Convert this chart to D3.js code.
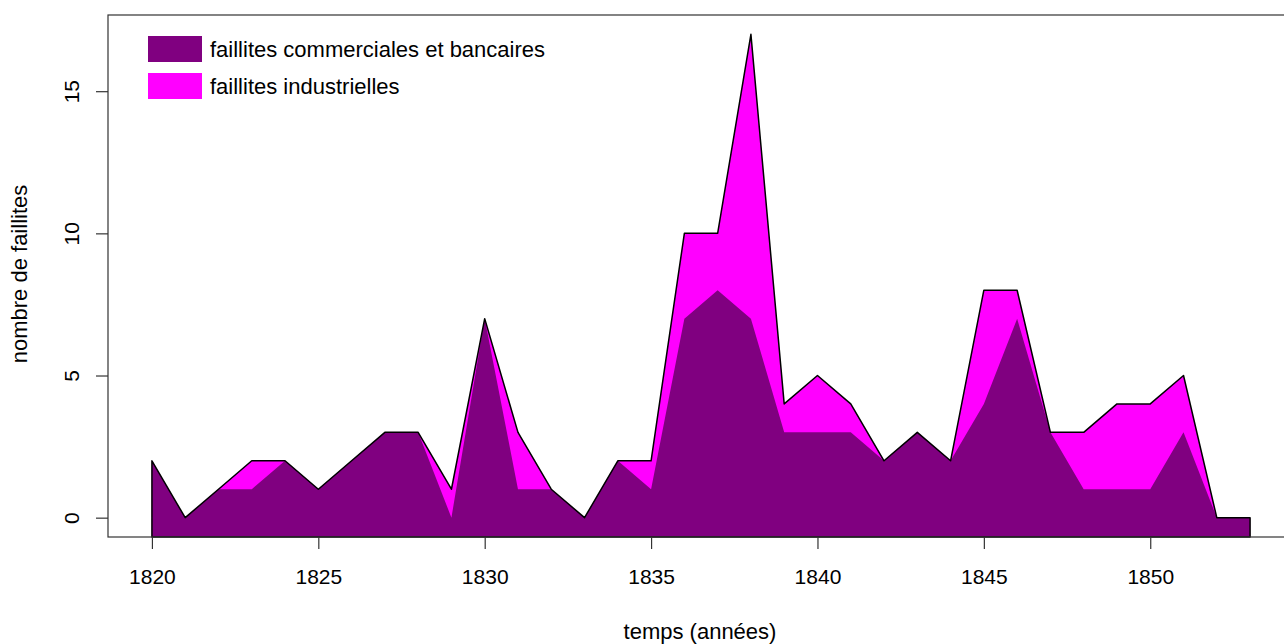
<!DOCTYPE html>
<html>
<head>
<meta charset="utf-8">
<script src="https://d3js.org/d3.v7.min.js"></script>
<style>
  body { margin: 0; background: #fff; }
  text { font-family: "Liberation Sans", Arial, sans-serif; fill: #000; }
</style>
</head>
<body>
<div id="chart"></div>
<script>
// years and number of failures
var years = d3.range(1820, 1854);
var totalFailures = [2, 0, 1, 2, 2, 1, 2, 3, 3, 1, 7, 3, 1, 0, 2, 2, 10, 10, 17, 4, 5, 4, 2, 3, 2, 8, 8, 3, 3, 4, 4, 5, 0, 0];
var commercialFailures = [2, 0, 1, 1, 2, 1, 2, 3, 3, 0, 7, 1, 1, 0, 2, 1, 7, 8, 7, 3, 3, 3, 2, 3, 2, 4, 7, 3, 1, 1, 1, 3, 0, 0];
var xTicks = [1820, 1825, 1830, 1835, 1840, 1845, 1850];
var yTicks = [0, 5, 10, 15];
var legendLabels = ["faillites commerciales et bancaires", "faillites industrielles"];
var legendColors = ["#800080", "#ff00ff"];

var W = 1284, H = 644;
var margin = {top: 15, left: 108, bottom: 107};

var svg = d3.select("#chart").append("svg")
  .attr("width", W).attr("height", H);

// R style 4% range extension
var xMin = 1820 - 33 * 0.04, xMax = 1853 + 33 * 0.04;
var yMin = -17 * 0.04, yMax = 17 + 17 * 0.04;

var x = d3.scaleLinear().domain([xMin, xMax]).range([margin.left, 1294]);
var y = d3.scaleLinear().domain([yMin, yMax]).range([H - margin.bottom, margin.top]);

var area = d3.area()
  .x(function(d) { return x(d[0]); })
  .y0(y(yMin))
  .y1(function(d) { return y(d[1]); });

var line = d3.line()
  .x(function(d) { return x(d[0]); })
  .y(function(d) { return y(d[1]); });

var totalPts = years.map(function(yr, i) { return [yr, totalFailures[i]]; });
var commPts = years.map(function(yr, i) { return [yr, commercialFailures[i]]; });

// industrial (total) polygon
svg.append("path").attr("d", area(totalPts)).attr("fill", legendColors[1]);
// commercial polygon over it
svg.append("path").attr("d", area(commPts)).attr("fill", legendColors[0]);
// outline of the total polygon
var outline = [[1820, yMin]].concat(totalPts).concat([[1853, yMin]]);
svg.append("path").attr("d", line(outline) + "Z")
  .attr("fill", "none").attr("stroke", "#000").attr("stroke-width", 1.5)
  .attr("stroke-linejoin", "round");

// box (left, top, bottom)
svg.append("rect")
  .attr("x", x(xMin)).attr("y", y(yMax))
  .attr("width", x(xMax) - x(xMin)).attr("height", y(yMin) - y(yMax))
  .attr("fill", "none").attr("stroke", "#333").attr("stroke-width", 1.2);

// x axis
var xAxis = svg.append("g")
  .attr("transform", "translate(0," + y(yMin) + ")")
  .call(d3.axisBottom(x).tickValues(xTicks).tickFormat(d3.format("d")).tickSize(12).tickPadding(20));
xAxis.select(".domain").remove();
xAxis.selectAll("line").attr("stroke", "#333").attr("stroke-width", 1.2);
xAxis.selectAll("text").attr("font-size", 21).style("font-family", "Liberation Sans, Arial, sans-serif").attr("fill", "#111");

// y axis
var yAxis = svg.append("g")
  .attr("transform", "translate(" + x(xMin) + ",0)")
  .call(d3.axisLeft(y).tickValues(yTicks).tickSize(12).tickFormat(d3.format("d")));
yAxis.select(".domain").remove();
yAxis.selectAll("line").attr("stroke", "#333").attr("stroke-width", 1.2);
yAxis.selectAll("text").remove();
yAxis.selectAll(".tick").append("text")
  .attr("transform", "translate(-29,0) rotate(-90)")
  .attr("text-anchor", "middle")
  .attr("font-size", 21)
  .attr("fill", "#111")
  .text(function(d) { return d; });

// axis titles
svg.append("text")
  .attr("x", 700).attr("y", 639)
  .attr("text-anchor", "middle").attr("font-size", 22)
  .text("temps (années)");
svg.append("text")
  .attr("transform", "translate(27," + 274 + ") rotate(-90)")
  .attr("text-anchor", "middle").attr("font-size", 22)
  .text("nombre de faillites");

// legend
var legend = svg.append("g").attr("transform", "translate(148,36)");
legendLabels.forEach(function(lab, i) {
  legend.append("rect")
    .attr("x", 0).attr("y", i * 37)
    .attr("width", 54).attr("height", 26)
    .attr("fill", legendColors[i]);
  legend.append("text")
    .attr("x", 62).attr("y", i * 37 + 21)
    .attr("font-size", 22)
    .text(lab);
});
</script>
</body>
</html>
